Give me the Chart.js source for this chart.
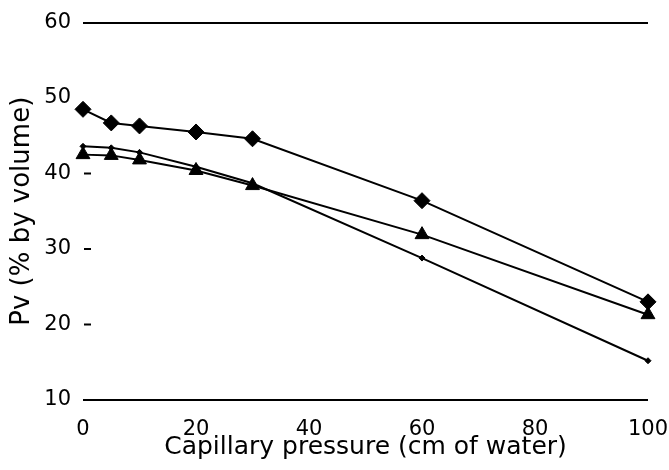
<!DOCTYPE html>
<html>
<head>
<meta charset="utf-8">
<script src="https://cdn.jsdelivr.net/npm/chart.js@4"></script>
<style>
  html, body { margin: 0; padding: 0; background: #fff; }
  #wrap { width: 669px; height: 470px; }
</style>
</head>
<body>
<div id="wrap"><canvas id="c" width="669" height="470"></canvas></div>
<script>
// Capillary pressure (cm of water) at which each measurement was taken
const pressure = [0, 5, 10, 20, 30, 60, 100];

// Pore volume (% by volume) for the three soil samples
const seriesDiamond  = [48.5, 46.7, 46.3, 45.5, 44.6, 36.4, 23.0];
const seriesTriangle = [42.5, 42.4, 41.8, 40.4, 38.4, 31.9, 21.3];
const seriesSmall    = [43.6, 43.4, 42.8, 40.9, 38.7, 28.8, 15.2];

// Axis tick values
const xTicks = [0, 20, 40, 60, 80, 100];
const yTicks = [10, 20, 30, 40, 50, 60];

const toPoints = ys => pressure.map((x, i) => ({ x, y: ys[i] }));

const FONT = "'DejaVu Sans', 'Liberation Sans', sans-serif";

// Short inward dashes beside some of the y-axis labels
const yDashes = {
  id: 'yDashes',
  afterDraw(chart, args, opts) {
    const { ctx, chartArea, scales } = chart;
    ctx.save();
    ctx.strokeStyle = '#000';
    ctx.lineWidth = 2;
    opts.values.forEach(v => {
      const y = scales.y.getPixelForValue(v);
      ctx.beginPath();
      ctx.moveTo(chartArea.left + 1, y);
      ctx.lineTo(chartArea.left + 8, y);
      ctx.stroke();
    });
    ctx.restore();
  }
};

const common = { borderColor: '#000', backgroundColor: '#000', borderWidth: 2, tension: 0, fill: false, clip: false };

new Chart(document.getElementById('c'), {
  type: 'line',
  data: {
    datasets: [
      { ...common, label: 'A', data: toPoints(seriesDiamond), pointStyle: 'rectRot', pointRadius: 8, pointBorderWidth: 1 },
      { ...common, label: 'B', data: toPoints(seriesSmall), pointStyle: 'rectRot', pointRadius: 3, pointBorderWidth: 1 },
      { ...common, label: 'C', data: toPoints(seriesTriangle), pointStyle: 'triangle', pointRadius: 8, pointBorderWidth: 1 }
    ]
  },
  options: {
    responsive: false,
    animation: false,
    layout: { padding: { top: 20, right: 21, bottom: 0, left: 0 } },
    plugins: {
      legend: { display: false },
      tooltip: { enabled: false },
      yDashes: { values: [20, 30, 40] }
    },
    scales: {
      x: {
        type: 'linear',
        min: 0, max: 100,
        afterBuildTicks: s => { s.ticks = xTicks.map(v => ({ value: v })); },
        afterFit: s => { s.height = 70; s.paddingLeft = 0; s.paddingRight = 0; },
        grid: { display: false, drawTicks: false },
        border: { display: false },
        ticks: { color: '#000', font: { family: FONT, size: 21, lineHeight: 1 }, padding: 19, maxRotation: 0 },
        title: {
          display: true, text: 'Capillary pressure (cm of water)', color: '#000',
          font: { family: FONT, size: 25, lineHeight: 1 }, padding: { top: 0, bottom: 10 }
        }
      },
      y: {
        min: 10, max: 60,
        afterBuildTicks: s => { s.ticks = yTicks.map(v => ({ value: v })); },
        afterFit: s => { s.width = 83; },
        grid: {
          drawTicks: false,
          lineWidth: 2,
          color: c => (c.tick && (c.tick.value === 10 || c.tick.value === 60)) ? '#000' : 'rgba(0,0,0,0)'
        },
        border: { display: false },
        ticks: { color: '#000', font: { family: FONT, size: 21, lineHeight: 1 }, padding: 12 },
        title: {
          display: true, text: 'Pv (% by volume)', color: '#000',
          font: { family: FONT, size: 26, lineHeight: 1 }, padding: { top: 9, bottom: 0 }
        }
      }
    }
  },
  plugins: [yDashes]
});
</script>
</body>
</html>
